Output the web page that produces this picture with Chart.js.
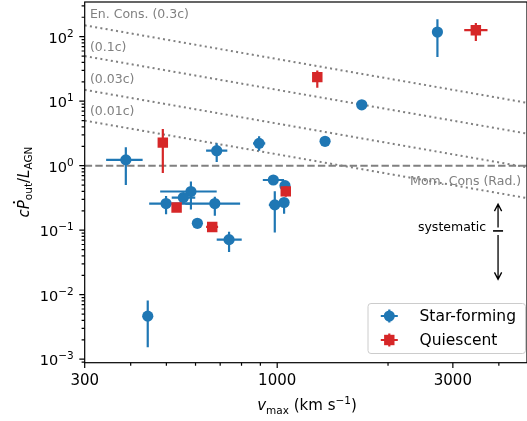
<!DOCTYPE html>
<html>
<head>
<meta charset="utf-8">
<script src="https://cdn.jsdelivr.net/npm/chart.js@4.4.1/dist/chart.umd.min.js"></script>
<style>
html,body{margin:0;padding:0;background:#fff;}
</style>
</head>
<body>
<canvas id="chart" width="527" height="421"></canvas>
<script>
// star-forming: v_max (km/s) with range, cPdot/L_AGN with range
const sfV    = [388, 445, 499, 583, 556, 607, 677, 685, 740, 893, 976, 985, 1044, 1050, 1349, 1697, 2724];
const sfVLo  = [343, 445, 449, 481, 517, 607, 563, 641, 685, 860, 914, 949, 1012, 1030, 1320, 1697, 2724];
const sfVHi  = [431, 445, 580, 685, 599, 607, 793, 732, 801, 928, 1044, 1024, 1077, 1070, 1380, 1697, 2724];
const sfP    = [1.23, 0.00465, 0.259, 0.398, 0.321, 0.128, 0.259, 1.71, 0.0714, 2.22, 0.60, 0.247, 0.269, 0.49, 2.39, 8.79, 118];
const sfPLo  = [0.50, 0.00153, 0.177, 0.21, 0.29, 0.128, 0.167, 1.14, 0.046, 1.71, 0.52, 0.092, 0.18, 0.42, 2.2, 8.79, 48.3];
const sfPHi  = [1.93, 0.0081, 0.34, 0.57, 0.35, 0.128, 0.33, 2.22, 0.095, 2.86, 0.70, 0.40, 0.31, 0.55, 2.6, 8.79, 187];

// quiescent
const qV   = [489, 533, 666, 1055, 1285, 3464];
const qVLo = [480, 533, 641, 1040, 1270, 3221];
const qVHi = [498, 533, 691, 1070, 1300, 3726];
const qP   = [2.28, 0.225, 0.1125, 0.40, 23.6, 126];
const qPLo = [0.77, 0.225, 0.105, 0.33, 16.2, 85.8];
const qPHi = [3.72, 0.225, 0.12, 0.48, 30, 163];

// reference lines (end points at v = 300 and 4800)
const refV = [300, 4800];
const en03 = [150, 9.375];
const en01 = [50, 3.125];
const en003 = [15, 0.9375];
const en001 = [5, 0.3125];
const momRad = [1, 1];

// axes
const xMin = 300, xMax = 4770;
const yMin = 8.83e-4, yMax = 345;
const xTickValues = [300, 1000, 3000];
const xTickLabels = ["300", "1000", "3000"];
const xMinorTicks = [400, 500, 600, 700, 800, 900, 2000, 4000];
const yTickValues = [1e-3, 1e-2, 1e-1, 1, 10, 100];
const yTickExp = ["\u22123", "\u22122", "\u22121", "0", "1", "2"];

// systematic arrow (top, centre, bottom) at v
const sysV = 3980;
const sysP = [0.254, 0.0975, 0.0173];

const BLUE = "#1f77b4";
const RED = "#d62728";
const GRAY = "#808080";
const FONT = '"DejaVu Sans", sans-serif';

function pts(xs, ys){
    return xs.map((x,i)=>({x:x, y:ys[i]}));
}

function errs(xl, xh, yl, yh){
    return xl.map((v,i)=>[v, xh[i], yl[i], yh[i]]);
}

function refLine(ys, dash){
    return {
        type:"line",
        data:pts(refV, ys),
        showLine:true,
        borderColor:GRAY,
        borderWidth:2,
        borderDash:dash,
        pointRadius:0,
        fill:false
    };
}

function textRuns(ctx, parts, x, y, align){
    let w = 0;
    parts.forEach(p=>{ ctx.font = p[1]; w += ctx.measureText(p[0]).width; });
    let cx = x;
    if(align === "right") cx = x - w;
    if(align === "center") cx = x - w/2;
    ctx.textAlign = "left";
    parts.forEach(p=>{
        ctx.font = p[1];
        ctx.fillText(p[0], cx, y + (p[2] || 0));
        cx += ctx.measureText(p[0]).width;
    });
    return w;
}

const extras = {
    id:"extras",
    beforeDatasetDraw(chart, args){
        const ds = chart.data.datasets[args.index];
        if(!ds.err) return;
        const xs = chart.scales.x, ys = chart.scales.y, ctx = chart.ctx;
        const a = chart.chartArea;
        ctx.save();
        ctx.beginPath();
        ctx.rect(a.left, a.top, a.right - a.left, a.bottom - a.top);
        ctx.clip();
        ctx.strokeStyle = ds.backgroundColor;
        ctx.lineWidth = 2.2;
        ds.err.forEach((e,i)=>{
            const px = xs.getPixelForValue(ds.data[i].x);
            const py = ys.getPixelForValue(ds.data[i].y);
            ctx.beginPath();
            ctx.moveTo(xs.getPixelForValue(e[0]), py);
            ctx.lineTo(xs.getPixelForValue(e[1]), py);
            ctx.moveTo(px, ys.getPixelForValue(e[2]));
            ctx.lineTo(px, ys.getPixelForValue(e[3]));
            ctx.stroke();
        });
        ctx.restore();
    },
    afterDraw(chart){
        const ctx = chart.ctx, a = chart.chartArea;
        const xs = chart.scales.x, ys = chart.scales.y;
        ctx.save();

        // frame
        ctx.strokeStyle = "#000";
        ctx.lineWidth = 1.2;
        ctx.strokeRect(a.left, a.top, a.right - a.left, a.bottom - a.top);

        // ticks
        ctx.beginPath();
        xTickValues.forEach(v=>{ const p = xs.getPixelForValue(v); ctx.moveTo(p, a.bottom); ctx.lineTo(p, a.bottom + 5.4); });
        xMinorTicks.forEach(v=>{ const p = xs.getPixelForValue(v); ctx.moveTo(p, a.bottom); ctx.lineTo(p, a.bottom + 3.1); });
        yTickValues.forEach(v=>{ const p = ys.getPixelForValue(v); ctx.moveTo(a.left, p); ctx.lineTo(a.left - 5.4, p); });
        for(let d = -4; d <= 2; d++){
            for(let m = 2; m <= 9; m++){
                const v = m * Math.pow(10, d);
                if(v < yMin || v > yMax) continue;
                const p = ys.getPixelForValue(v);
                ctx.moveTo(a.left, p); ctx.lineTo(a.left - 3.1, p);
            }
        }
        ctx.stroke();

        // tick labels
        ctx.fillStyle = "#000";
        ctx.textBaseline = "alphabetic";
        xTickValues.forEach((v,i)=>{
            textRuns(ctx, [[xTickLabels[i], "15px " + FONT]], xs.getPixelForValue(v), a.bottom + 22, "center");
        });
        yTickValues.forEach((v,i)=>{
            const p = ys.getPixelForValue(v);
            textRuns(ctx, [["10", "14.5px " + FONT], [yTickExp[i], "10.5px " + FONT, -6]], a.left - 11, p + 6, "right");
        });

        // x title
        textRuns(ctx, [
            ["v", "italic 15px " + FONT],
            ["max", "10.5px " + FONT, 3.5],
            [" (km s", "15px " + FONT],
            ["\u22121", "10.5px " + FONT, -6],
            [")", "15px " + FONT]
        ], 307, 410, "center");

        // y title
        ctx.save();
        ctx.translate(23, 182);
        ctx.rotate(-Math.PI/2);
        const parts = [
            ["c", "italic 15px " + FONT],
            ["P", "italic 15px " + FONT],
            ["out", "10.5px " + FONT, 3.5],
            ["/", "15px " + FONT],
            ["L", "italic 15px " + FONT],
            ["AGN", "10.5px " + FONT, 3.5]
        ];
        const w = textRuns(ctx, parts, 0, 5.5, "center");
        ctx.font = "italic 15px " + FONT;
        const cw = ctx.measureText("c").width;
        const pw = ctx.measureText("P").width;
        ctx.beginPath();
        ctx.arc(-w/2 + cw + pw*0.75, 5.5 - 14.5, 1.1, 0, Math.PI*2);
        ctx.fill();
        ctx.restore();

        // reference line labels
        ctx.fillStyle = GRAY;
        ctx.textBaseline = "middle";
        const lx = xs.getPixelForValue(310);
        textRuns(ctx, [["En. Cons. (0.3c)", "12.5px " + FONT]], lx, ys.getPixelForValue(215), "left");
        textRuns(ctx, [["(0.1c)", "12.5px " + FONT]], lx, ys.getPixelForValue(66.7), "left");
        textRuns(ctx, [["(0.03c)", "12.5px " + FONT]], lx, ys.getPixelForValue(21.7), "left");
        textRuns(ctx, [["(0.01c)", "12.5px " + FONT]], lx, ys.getPixelForValue(6.9), "left");
        textRuns(ctx, [["Mom. Cons (Rad.)", "12.5px " + FONT]], xs.getPixelForValue(2296), ys.getPixelForValue(0.564), "left");

        // systematic arrow
        ctx.fillStyle = "#000";
        const sx = xs.getPixelForValue(sysV);
        const sTop = ys.getPixelForValue(sysP[0]);
        const sMid = ys.getPixelForValue(sysP[1]);
        const sBot = ys.getPixelForValue(sysP[2]);
        textRuns(ctx, [["systematic", "12.5px " + FONT]], sx - 12, sMid - 3, "right");
        ctx.strokeStyle = "#000";
        ctx.lineWidth = 1.3;
        ctx.beginPath();
        ctx.moveTo(sx, sTop); ctx.lineTo(sx, sMid - 3.5);
        ctx.moveTo(sx, sMid + 4); ctx.lineTo(sx, sBot);
        ctx.moveTo(sx - 3.6, sTop + 7); ctx.lineTo(sx, sTop); ctx.lineTo(sx + 3.6, sTop + 7);
        ctx.moveTo(sx - 3.6, sBot - 7); ctx.lineTo(sx, sBot); ctx.lineTo(sx + 3.6, sBot - 7);
        ctx.stroke();
        ctx.lineWidth = 1.6;
        ctx.beginPath();
        ctx.moveTo(sx - 5, sMid); ctx.lineTo(sx + 5, sMid);
        ctx.stroke();

        // legend
        const bx = 368, by = 303.5, bw = 157.5, bh = 50;
        ctx.beginPath();
        ctx.roundRect(bx, by, bw, bh, 3);
        ctx.fillStyle = "rgba(255,255,255,0.8)";
        ctx.fill();
        ctx.strokeStyle = "#cccccc";
        ctx.lineWidth = 1;
        ctx.stroke();
        const items = [["Star-forming", BLUE, "circle"], ["Quiescent", RED, "rect"]];
        items.forEach((it,i)=>{
            const mx = 389.3, my = 316 + i*24;
            ctx.strokeStyle = it[1];
            ctx.lineWidth = 2.2;
            ctx.beginPath();
            ctx.moveTo(mx - 8.5, my); ctx.lineTo(mx + 8.5, my);
            ctx.moveTo(mx, my - 6.5); ctx.lineTo(mx, my + 6.5);
            ctx.stroke();
            ctx.fillStyle = it[1];
            ctx.beginPath();
            if(it[2] === "circle") ctx.arc(mx, my, 5.5, 0, Math.PI*2);
            else ctx.rect(mx - 5.2, my - 5.2, 10.4, 10.4);
            ctx.fill();
            ctx.fillStyle = "#000";
            ctx.textBaseline = "middle";
            textRuns(ctx, [[it[0], "15.5px " + FONT]], 419.5, my + 0.5, "left");
        });

        ctx.restore();
    }
};

const ctx = document.getElementById("chart");

const chart = new Chart(ctx, {
    type:"scatter",
    data:{
        datasets:[
            {
                label:"Quiescent",
                data:pts(qV, qP),
                err:errs(qVLo, qVHi, qPLo, qPHi),
                pointStyle:"rect",
                pointRadius:7.4,
                backgroundColor:RED,
                borderWidth:0
            },
            {
                label:"Star-forming",
                data:pts(sfV, sfP),
                err:errs(sfVLo, sfVHi, sfPLo, sfPHi),
                pointStyle:"circle",
                pointRadius:5.6,
                backgroundColor:BLUE,
                borderWidth:0
            },
            refLine(en03, [2, 3.3]),
            refLine(en01, [2, 3.3]),
            refLine(en003, [2, 3.3]),
            refLine(en001, [2, 3.3]),
            refLine(momRad, [7.4, 3.2])
        ]
    },
    options:{
        responsive:false,
        devicePixelRatio:1,
        animation:false,
        events:[],
        layout:{autoPadding:false, padding:{top:2, right:0, left:0, bottom:0}},
        plugins:{legend:{display:false}, tooltip:{enabled:false}},
        scales:{
            x:{
                type:"logarithmic",
                min:xMin, max:xMax,
                grid:{display:false},
                border:{display:false},
                ticks:{display:false},
                afterFit:(s)=>{ s.height = 58.3; }
            },
            y:{
                type:"logarithmic",
                min:yMin, max:yMax,
                grid:{display:false},
                border:{display:false},
                ticks:{display:false},
                afterFit:(s)=>{ s.width = 84.7; }
            }
        }
    },
    plugins:[extras]
});
</script>
</body>
</html>
